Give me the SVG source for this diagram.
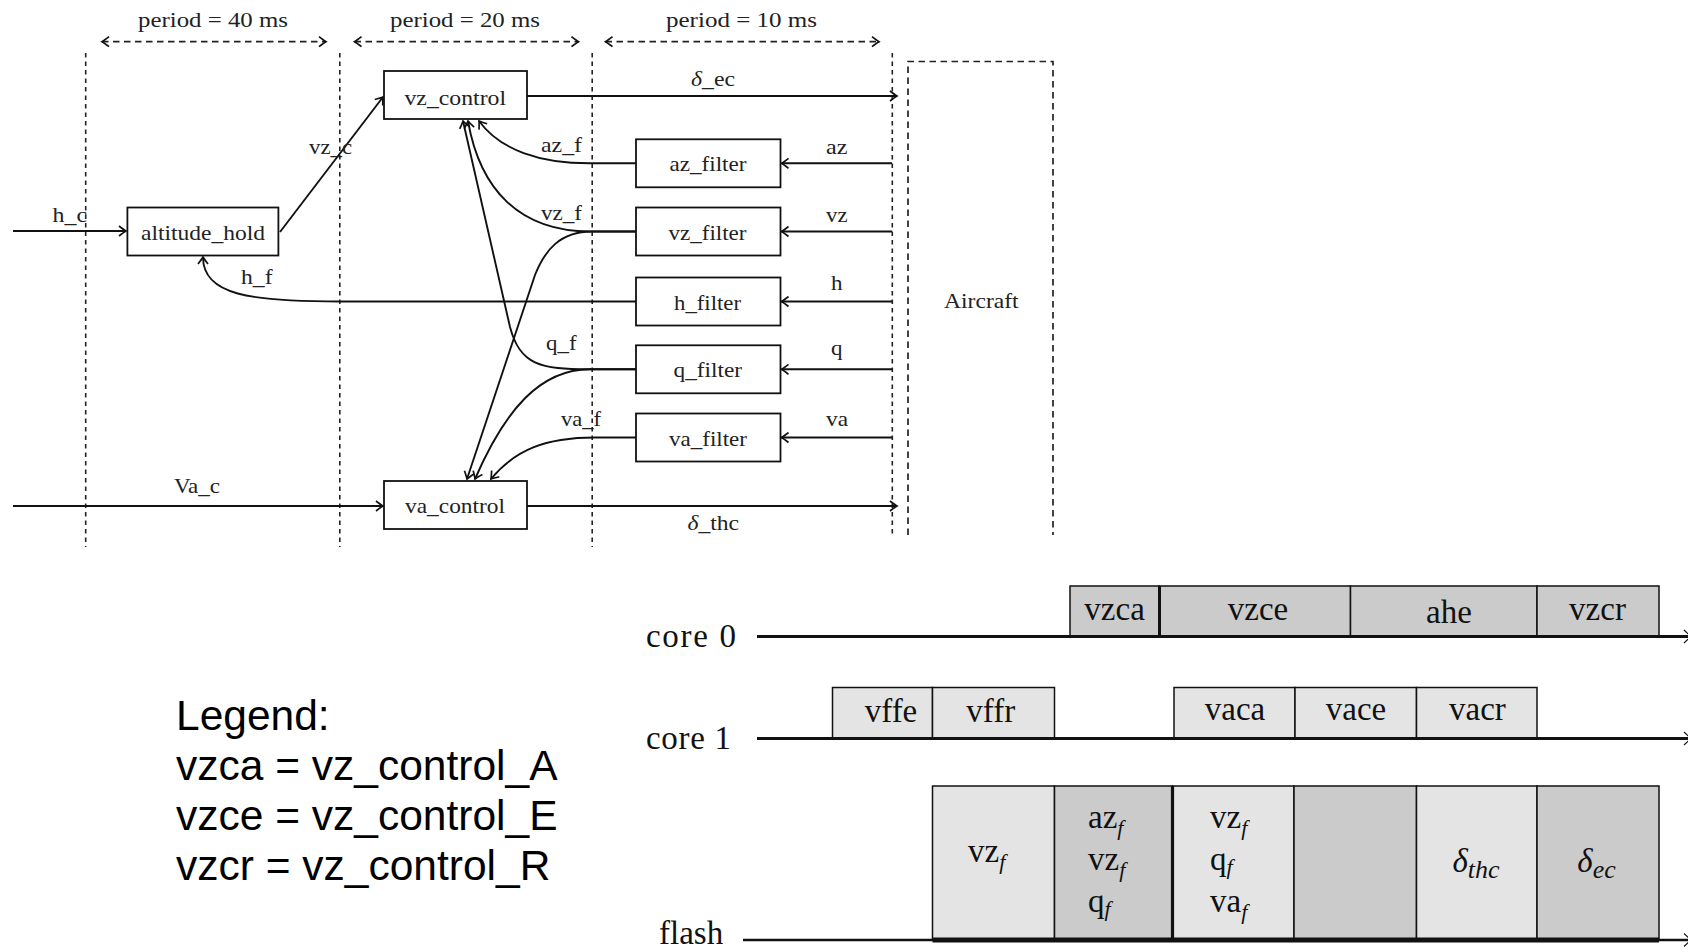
<svg xmlns="http://www.w3.org/2000/svg" width="1688" height="952" viewBox="0 0 1688 952">
<style>
.t{font-family:"Liberation Serif","Times New Roman",serif;font-size:21px;fill:#222}
.box{fill:#fff;stroke:#111;stroke-width:1.8}
.ln{fill:none;stroke:#111;stroke-width:1.9}
.vd{fill:none;stroke:#222;stroke-width:1.6;stroke-dasharray:4.5 4}
.pd{fill:none;stroke:#222;stroke-width:1.7;stroke-dasharray:6.5 4.5}
.tl{font-family:"Liberation Serif","Times New Roman",serif;font-size:33px;fill:#111}
.dk{fill:#cbcbcb;stroke:#111;stroke-width:1.5}
.lt{fill:#e4e4e4;stroke:#111;stroke-width:1.5}
.sub{font-style:italic;font-size:22px}
.lg{font-family:"Liberation Sans",Arial,sans-serif;font-size:42.5px;fill:#000}
</style>
<defs>
<marker id="arr" viewBox="-9 -6 11 12" refX="0" refY="0" markerWidth="11" markerHeight="12" markerUnits="userSpaceOnUse" orient="auto-start-reverse">
<path d="M-7,-5 Q-2.2,-1.3 0,0 Q-2.2,1.3 -7,5" fill="none" stroke="#111" stroke-width="1.7" stroke-dasharray="none"/>
</marker>
</defs>
<rect width="1688" height="952" fill="#fff"/>

<g id="periods">
<path class="pd" d="M102,41.7 H326" marker-start="url(#arr)" marker-end="url(#arr)"/>
<path class="pd" d="M354.5,41.7 H578.5" marker-start="url(#arr)" marker-end="url(#arr)"/>
<path class="pd" d="M605.5,41.7 H879" marker-start="url(#arr)" marker-end="url(#arr)"/>
<text class="t" x="138" y="26.5" textLength="150" lengthAdjust="spacingAndGlyphs">period = 40 ms</text>
<text class="t" x="390" y="26.5" textLength="150" lengthAdjust="spacingAndGlyphs">period = 20 ms</text>
<text class="t" x="666" y="26.5" textLength="151" lengthAdjust="spacingAndGlyphs">period = 10 ms</text>
</g>

<g id="dividers">
<path class="vd" d="M85.7,53 V547"/>
<path class="vd" d="M339.8,53 V547"/>
<path class="vd" d="M592.2,53 V547"/>
<path class="vd" d="M892.3,53 V535"/>
</g>

<g id="aircraft">
<path class="pd" d="M908,535 V61.5 H1053 V535"/>
<text class="t" x="944" y="308" textLength="74.6" lengthAdjust="spacingAndGlyphs">Aircraft</text>
</g>

<g id="connectors">
<path class="ln" d="M13,231 H126" marker-end="url(#arr)"/>
<path class="ln" d="M280,232 L383,97" marker-end="url(#arr)"/>
<path class="ln" d="M527,96 H897" marker-end="url(#arr)"/>
<path class="ln" d="M527,506 H897" marker-end="url(#arr)"/>
<path class="ln" d="M13,506 H383" marker-end="url(#arr)"/>
<path class="ln" d="M892,163.3 H781.5" marker-end="url(#arr)"/>
<path class="ln" d="M892,231.5 H781.5" marker-end="url(#arr)"/>
<path class="ln" d="M892,301.5 H781.5" marker-end="url(#arr)"/>
<path class="ln" d="M892,369.3 H781.5" marker-end="url(#arr)"/>
<path class="ln" d="M892,437.5 H781.5" marker-end="url(#arr)"/>
<path class="ln" d="M636,163.3 L590,163.3 C540,163.3 500,150 479,121" marker-end="url(#arr)"/>
<path class="ln" d="M636,231.5 L590,231.5 C520,231.5 480,190 468,121" marker-end="url(#arr)"/>
<path class="ln" d="M636,231.5 L592,231.5 C560,231.5 545,250 535,275 L467,479" marker-end="url(#arr)"/>
<path class="ln" d="M636,369.3 L590,369.3 C540,369.3 520,365 510,327 L463,121" marker-end="url(#arr)"/>
<path class="ln" d="M636,369.3 L590,369.3 C540,369.3 505,410 475,479" marker-end="url(#arr)"/>
<path class="ln" d="M636,437.5 L595,437.5 C545,437.5 515,450 491,479" marker-end="url(#arr)"/>
<path class="ln" d="M636,301.5 L340,301.5 C250,301.5 203,295 203,257" marker-end="url(#arr)"/>
<text class="t" x="52.5" y="221.5" textLength="34.5" lengthAdjust="spacingAndGlyphs">h_c</text>
<text class="t" x="309" y="154" textLength="43" lengthAdjust="spacingAndGlyphs">vz_c</text>
<text class="t" x="241" y="284" textLength="31.5" lengthAdjust="spacingAndGlyphs">h_f</text>
<text class="t" x="174" y="493" textLength="46" lengthAdjust="spacingAndGlyphs">Va_c</text>
<text class="t" x="541" y="152" textLength="41" lengthAdjust="spacingAndGlyphs">az_f</text>
<text class="t" x="541" y="220" textLength="41" lengthAdjust="spacingAndGlyphs">vz_f</text>
<text class="t" x="546" y="350" textLength="30.5" lengthAdjust="spacingAndGlyphs">q_f</text>
<text class="t" x="561" y="425.5" textLength="40" lengthAdjust="spacingAndGlyphs">va_f</text>
<text class="t" x="691" y="86" textLength="44" lengthAdjust="spacingAndGlyphs"><tspan font-style="italic">δ</tspan>_ec</text>
<text class="t" x="687.5" y="530" textLength="51.5" lengthAdjust="spacingAndGlyphs"><tspan font-style="italic">δ</tspan>_thc</text>
<text class="t" x="826" y="154" textLength="21.5" lengthAdjust="spacingAndGlyphs">az</text>
<text class="t" x="826" y="222" textLength="21.5" lengthAdjust="spacingAndGlyphs">vz</text>
<text class="t" x="831" y="290" textLength="11.5" lengthAdjust="spacingAndGlyphs">h</text>
<text class="t" x="831" y="355" textLength="11.5" lengthAdjust="spacingAndGlyphs">q</text>
<text class="t" x="826" y="426" textLength="22" lengthAdjust="spacingAndGlyphs">va</text>
</g>

<g id="vz_control">
<rect class="box" x="384" y="71" width="143" height="48"/>
<text class="t" x="404.5" y="105" textLength="101.5" lengthAdjust="spacingAndGlyphs">vz_control</text>
</g>
<g id="altitude_hold">
<rect class="box" x="127.4" y="207.5" width="151" height="48"/>
<text class="t" x="141" y="240" textLength="124" lengthAdjust="spacingAndGlyphs">altitude_hold</text>
</g>
<g id="va_control">
<rect class="box" x="384" y="481" width="143" height="48"/>
<text class="t" x="405" y="513" textLength="100" lengthAdjust="spacingAndGlyphs">va_control</text>
</g>
<g id="az_filter">
<rect class="box" x="636" y="139.3" width="144.5" height="48"/>
<text class="t" x="669.5" y="171.3" textLength="77" lengthAdjust="spacingAndGlyphs">az_filter</text>
</g>
<g id="vz_filter">
<rect class="box" x="636" y="207.5" width="144.5" height="48"/>
<text class="t" x="668.5" y="239.5" textLength="78" lengthAdjust="spacingAndGlyphs">vz_filter</text>
</g>
<g id="h_filter">
<rect class="box" x="636" y="277.5" width="144.5" height="48"/>
<text class="t" x="674" y="309.5" textLength="67" lengthAdjust="spacingAndGlyphs">h_filter</text>
</g>
<g id="q_filter">
<rect class="box" x="636" y="345.3" width="144.5" height="48"/>
<text class="t" x="673.5" y="377.3" textLength="68.5" lengthAdjust="spacingAndGlyphs">q_filter</text>
</g>
<g id="va_filter">
<rect class="box" x="636" y="413.5" width="144.5" height="48"/>
<text class="t" x="669" y="445.5" textLength="78" lengthAdjust="spacingAndGlyphs">va_filter</text>
</g>

<g id="core0">
<rect class="dk" x="1070" y="586" width="89.5" height="50.5"/>
<rect class="dk" x="1159.5" y="586" width="191" height="50.5"/>
<rect class="dk" x="1350.5" y="586" width="186.5" height="50.5"/>
<rect class="dk" x="1537" y="586" width="122" height="50.5"/>
<path d="M1159.5,586 V636.5" stroke="#111" stroke-width="3"/>
<path d="M757,636.5 H1688" stroke="#111" stroke-width="3.2"/>
<path d="M1684,630 L1691,636.5 L1684,643" fill="none" stroke="#111" stroke-width="1.2"/>
<text class="tl" x="646" y="647" textLength="90" lengthAdjust="spacing">core 0</text>
<text class="tl" x="1114.6" y="620" text-anchor="middle">vzca</text>
<text class="tl" x="1258" y="620" text-anchor="middle">vzce</text>
<text class="tl" x="1449" y="623" text-anchor="middle">ahe</text>
<text class="tl" x="1597.5" y="620" text-anchor="middle">vzcr</text>
</g>

<g id="core1">
<rect class="lt" x="832.5" y="687.5" width="100" height="51"/>
<rect class="lt" x="932.5" y="687.5" width="122" height="51"/>
<rect class="lt" x="1174" y="687.5" width="121" height="51"/>
<rect class="lt" x="1295" y="687.5" width="121.5" height="51"/>
<rect class="lt" x="1416.5" y="687.5" width="120.5" height="51"/>
<path d="M757,738.5 H1688" stroke="#111" stroke-width="3.2"/>
<path d="M1684,732 L1691,738.5 L1684,745" fill="none" stroke="#111" stroke-width="1.2"/>
<text class="tl" x="646" y="749" textLength="85" lengthAdjust="spacing">core 1</text>
<text class="tl" x="891" y="722" text-anchor="middle">vffe</text>
<text class="tl" x="990.8" y="722" text-anchor="middle">vffr</text>
<text class="tl" x="1235" y="720" text-anchor="middle">vaca</text>
<text class="tl" x="1356" y="720" text-anchor="middle">vace</text>
<text class="tl" x="1477.4" y="720" text-anchor="middle">vacr</text>
</g>

<g id="flash">
<rect class="lt" x="932.5" y="786" width="122" height="154"/>
<rect class="dk" x="1054.5" y="786" width="118" height="154"/>
<rect class="lt" x="1172.5" y="786" width="121.5" height="154"/>
<rect class="dk" x="1294" y="786" width="122.5" height="154"/>
<rect class="lt" x="1416.5" y="786" width="120.5" height="154"/>
<rect class="dk" x="1537" y="786" width="122" height="154"/>
<path d="M1172.5,786 V940" stroke="#111" stroke-width="3.2"/>
<path d="M743,940 H1688" stroke="#111" stroke-width="2.6"/>
<path d="M932.5,940 H1659" stroke="#111" stroke-width="5"/>
<path d="M1684,933.5 L1691,940 L1684,946.5" fill="none" stroke="#111" stroke-width="1.2"/>
<text class="tl" x="659" y="944">flash</text>
<text class="tl" x="968" y="862">vz<tspan class="sub" dy="7">f</tspan></text>
<text class="tl" x="1088" y="828">az<tspan class="sub" dy="7">f</tspan></text>
<text class="tl" x="1088" y="870">vz<tspan class="sub" dy="7">f</tspan></text>
<text class="tl" x="1088" y="912">q<tspan class="sub" dy="4">f</tspan></text>
<text class="tl" x="1210" y="828">vz<tspan class="sub" dy="7">f</tspan></text>
<text class="tl" x="1210" y="870">q<tspan class="sub" dy="4">f</tspan></text>
<text class="tl" x="1210" y="912">va<tspan class="sub" dy="7">f</tspan></text>
<text class="tl" x="1476" y="872" text-anchor="middle"><tspan font-style="italic">δ</tspan><tspan font-style="italic" font-size="26" dy="6">thc</tspan></text>
<text class="tl" x="1596.5" y="872" text-anchor="middle"><tspan font-style="italic">δ</tspan><tspan font-style="italic" font-size="26" dy="6">ec</tspan></text>
</g>

<g id="legend">
<text class="lg" x="176" y="730">Legend:</text>
<text class="lg" x="176" y="780">vzca = vz_control_A</text>
<text class="lg" x="176" y="830">vzce = vz_control_E</text>
<text class="lg" x="176" y="880">vzcr = vz_control_R</text>
</g>
</svg>
